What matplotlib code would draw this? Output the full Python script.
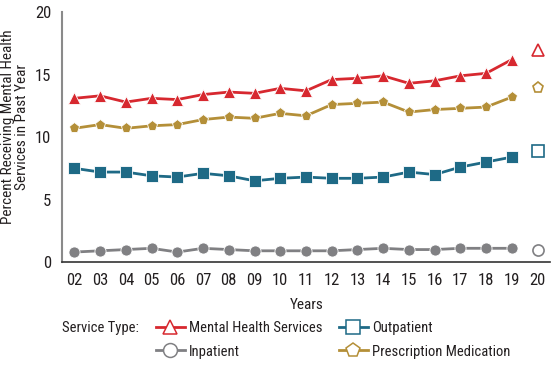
import matplotlib
matplotlib.use("Agg")
import matplotlib.pyplot as plt
from matplotlib.lines import Line2D

plt.rcParams['font.family'] = ['Roboto Condensed', 'Archivo Narrow', 'DejaVu Sans']

years = ['02', '03', '04', '05', '06', '07', '08', '09', '10', '11',
         '12', '13', '14', '15', '16', '17', '18', '19', '20']

mental_health = [13.1, 13.3, 12.8, 13.1, 13.0, 13.4, 13.6, 13.5, 13.9, 13.7,
                 14.6, 14.7, 14.9, 14.3, 14.5, 14.9, 15.1, 16.2]
mental_health_2020 = 17.0

outpatient = [7.5, 7.2, 7.2, 6.9, 6.8, 7.1, 6.9, 6.5, 6.7, 6.8,
              6.7, 6.7, 6.8, 7.2, 7.0, 7.6, 8.0, 8.4]
outpatient_2020 = 8.9

inpatient = [0.8, 0.9, 1.0, 1.1, 0.8, 1.1, 1.0, 0.9, 0.9, 0.9,
             0.9, 1.0, 1.1, 1.0, 1.0, 1.1, 1.1, 1.1]
inpatient_2020 = 1.0

prescription = [10.7, 11.0, 10.7, 10.9, 11.0, 11.4, 11.6, 11.5, 11.9, 11.7,
                12.6, 12.7, 12.8, 12.0, 12.2, 12.3, 12.4, 13.2]
prescription_2020 = 13.9

red = '#d7282f'
teal = '#1e6a86'
gray = '#808083'
gold = '#b48f38'
txt = '#231f20'

series = [
    ('Mental Health Services', mental_health, mental_health_2020, red, '^'),
    ('Outpatient', outpatient, outpatient_2020, teal, 's'),
    ('Inpatient', inpatient, inpatient_2020, gray, 'o'),
    ('Prescription Medication', prescription, prescription_2020, gold, 'p'),
]

fig = plt.figure(figsize=(5.56, 3.66), dpi=100)
ax = fig.add_axes([0.112, 0.284, 0.878, 0.683])

x = list(range(len(years)))
handles = {}
for name, vals, last, col, mk in series:
    ax.plot(x[:-1], vals, color=col, lw=2, marker=mk, markersize=8,
            markeredgecolor='white', markeredgewidth=0.6, zorder=3)
    ax.plot(x[-1], last, linestyle='none', marker=mk, markersize=8,
            markerfacecolor='white', markeredgecolor=col, markeredgewidth=1.2, zorder=3)
    handles[name] = Line2D([], [], color=col, lw=2, marker=mk, markersize=10,
                           markerfacecolor='white', markeredgecolor=col,
                           markeredgewidth=1.1)

ax.set_xlim(-0.47, 18.5)
ax.set_ylim(0, 20)
ax.set_xticks(x)
ax.set_xticklabels(years)
ax.set_yticks([0, 5, 10, 15, 20])
ax.tick_params(length=0, labelsize=12, colors=txt)
ax.tick_params(axis='x', pad=8)
ax.tick_params(axis='y', pad=8)

for s in ['top', 'right']:
    ax.spines[s].set_visible(False)
ax.spines['left'].set_color('#8a8a8a')
ax.spines['left'].set_linewidth(1.5)
ax.spines['bottom'].set_color('#333333')
ax.spines['bottom'].set_linewidth(1.2)

ax.set_xlabel('Years', fontsize=11, labelpad=7, color=txt)
ax.set_ylabel('Percent Receiving Mental Health\nServices in Past Year',
              fontsize=11, color=txt, linespacing=1.0, va='center')
ax.yaxis.set_label_coords(-0.097, 0.54)

order = ['Mental Health Services', 'Inpatient', 'Outpatient', 'Prescription Medication']
fig.text(0.112, 0.105, 'Service Type:', fontsize=10.5, color=txt, va='center')
fig.legend([handles[n] for n in order], order, ncol=2, frameon=False,
           loc='upper left', bbox_to_anchor=(0.28, 0.124), fontsize=10.5,
           handlelength=2.0, handletextpad=0.3, columnspacing=1.1,
           labelspacing=0.68, borderaxespad=0, borderpad=0, labelcolor=txt)

fig.savefig('out.png', dpi=100)
